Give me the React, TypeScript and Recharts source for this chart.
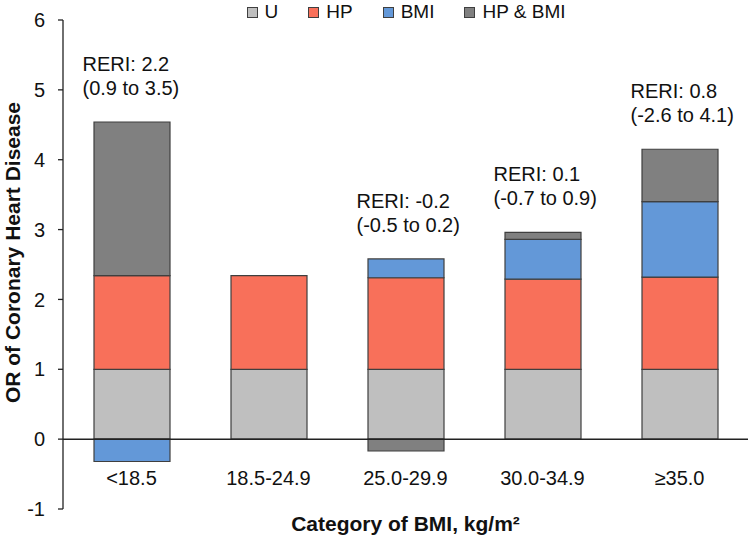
import React from 'react';
import { ComposedChart, Bar, Line, XAxis, YAxis, ReferenceLine, Legend, LabelList, Label } from 'recharts';

const categories = ['<18.5', '18.5-24.9', '25.0-29.9', '30.0-34.9', '≥35.0'];
const seriesNames = ['U', 'HP', 'BMI', 'HP & BMI'];
const uValues = [1, 1, 1, 1, 1];
const hpValues = [1.34, 1.34, 1.31, 1.29, 1.32];
const bmiValues = [-0.32, 0, 0.27, 0.57, 1.08];
const hpBmiValues = [2.2, 0, -0.17, 0.1, 0.75];
const reriText = ['RERI: 2.2', '', 'RERI: -0.2', 'RERI: 0.1', 'RERI: 0.8'];
const reriCi = ['(0.9 to 3.5)', '', '(-0.5 to 0.2)', '(-0.7 to 0.9)', '(-2.6 to 4.1)'];
const yTicks = [-1, 0, 1, 2, 3, 4, 5, 6];

const FONT = '"Liberation Sans", Arial, sans-serif';
const EDGE = '#3f3f3f';

const data = categories.map((category, i) => {
  const parts = [uValues[i], hpValues[i], bmiValues[i], hpBmiValues[i]];
  return {
    category,
    u: uValues[i],
    hp: hpValues[i],
    bmi: bmiValues[i],
    hpBmi: hpBmiValues[i],
    // top of the positive part of the stack, used to hang the RERI notes
    stackTop: parts.filter((v) => v > 0).reduce((a, b) => a + b, 0),
  };
});

const XTick = (props: any) => {
  const { x, y, payload } = props;
  return (
    <text x={x} y={y - 24} textAnchor="middle" fontSize={20} fill="#111" fontFamily={FONT}>
      {payload.value}
    </text>
  );
};

const ReriNote = (props: any) => {
  const { x, y, index } = props;
  if (!reriText[index]) return null;
  const left = x - 49;
  return (
    <g fontFamily={FONT} fontSize={20} fill="#111">
      <text x={left} y={y - 51}>{reriText[index]}</text>
      <text x={left} y={y - 27}>{reriCi[index]}</text>
    </g>
  );
};

const LegendBox = (props: any) => {
  const items = (props.payload || [])
    .filter((p: any) => seriesNames.includes(p.value))
    .sort((a: any, b: any) => seriesNames.indexOf(a.value) - seriesNames.indexOf(b.value));
  return (
    <div
      style={{
        display: 'flex',
        justifyContent: 'center',
        paddingLeft: 63,
        fontFamily: FONT,
        fontSize: 19,
        color: '#111',
        lineHeight: '24px',
      }}
    >
      {items.map((item: any, i: number) => (
        <div key={item.value} style={{ display: 'flex', alignItems: 'center', marginLeft: i === 0 ? 0 : 30 }}>
          <span
            style={{
              width: 9,
              height: 9,
              background: item.color,
              border: `1px solid ${EDGE}`,
              marginRight: 7,
              display: 'inline-block',
            }}
          />
          <span>{item.value}</span>
        </div>
      ))}
    </div>
  );
};

export default function App() {
  return (
    <div style={{ position: 'absolute', left: 0, top: 0, width: 749, height: 537, background: '#fff' }}>
      <ComposedChart
        width={749}
        height={537}
        data={data}
        stackOffset="sign"
        barSize={76}
        margin={{ top: 20, right: 1, left: 0, bottom: 0 }}
      >
        <XAxis
          dataKey="category"
          axisLine={false}
          tickLine={false}
          tickSize={0}
          tickMargin={0}
          height={28}
          interval={0}
          tick={<XTick />}
        >
          <Label
            content={(p: any) => {
              const vb = p.viewBox;
              return (
                <text
                  x={vb.x + vb.width / 2}
                  y={vb.y + 22}
                  textAnchor="middle"
                  fontFamily={FONT}
                  fontSize={21}
                  fontWeight="bold"
                  fill="#111"
                >
                  Category of BMI, kg/m²
                </text>
              );
            }}
          />
        </XAxis>
        <YAxis
          domain={[-1, 6]}
          ticks={yTicks}
          interval={0}
          width={63}
          axisLine={{ stroke: '#222', strokeWidth: 1.3 }}
          tickLine={{ stroke: '#222', strokeWidth: 1.3 }}
          tickSize={5}
          tickMargin={13}
          tick={{ fontSize: 20, fill: '#111', fontFamily: FONT }}
        >
          <Label
            content={(p: any) => {
              const vb = p.viewBox;
              const cx = 20;
              const cy = vb.y + vb.height / 2 - 12;
              return (
                <text
                  x={cx}
                  y={cy}
                  transform={`rotate(-90 ${cx} ${cy})`}
                  textAnchor="middle"
                  fontFamily={FONT}
                  fontSize={21}
                  fontWeight="bold"
                  fill="#111"
                >
                  OR of Coronary Heart Disease
                </text>
              );
            }}
          />
        </YAxis>
        <Legend
          verticalAlign="middle"
          align="center"
          layout="horizontal"
          wrapperStyle={{ top: 0, left: 0, width: 749 }}
          content={<LegendBox />}
        />
        <Bar dataKey="u" name="U" stackId="s" fill="#bfbfbf" stroke={EDGE} strokeWidth={1.2} isAnimationActive={false} />
        <Bar dataKey="hp" name="HP" stackId="s" fill="#f8705a" stroke={EDGE} strokeWidth={1.2} isAnimationActive={false} />
        <Bar dataKey="bmi" name="BMI" stackId="s" fill="#6398d8" stroke={EDGE} strokeWidth={1.2} isAnimationActive={false} />
        <Bar dataKey="hpBmi" name="HP & BMI" stackId="s" fill="#808080" stroke={EDGE} strokeWidth={1.2} isAnimationActive={false} />
        <Line
          dataKey="stackTop"
          stroke="none"
          dot={false}
          activeDot={false}
          legendType="none"
          isAnimationActive={false}
        >
          <LabelList dataKey="stackTop" content={<ReriNote />} />
        </Line>
        <ReferenceLine y={0} stroke="#222" strokeWidth={1.5} />
      </ComposedChart>
    </div>
  );
}
